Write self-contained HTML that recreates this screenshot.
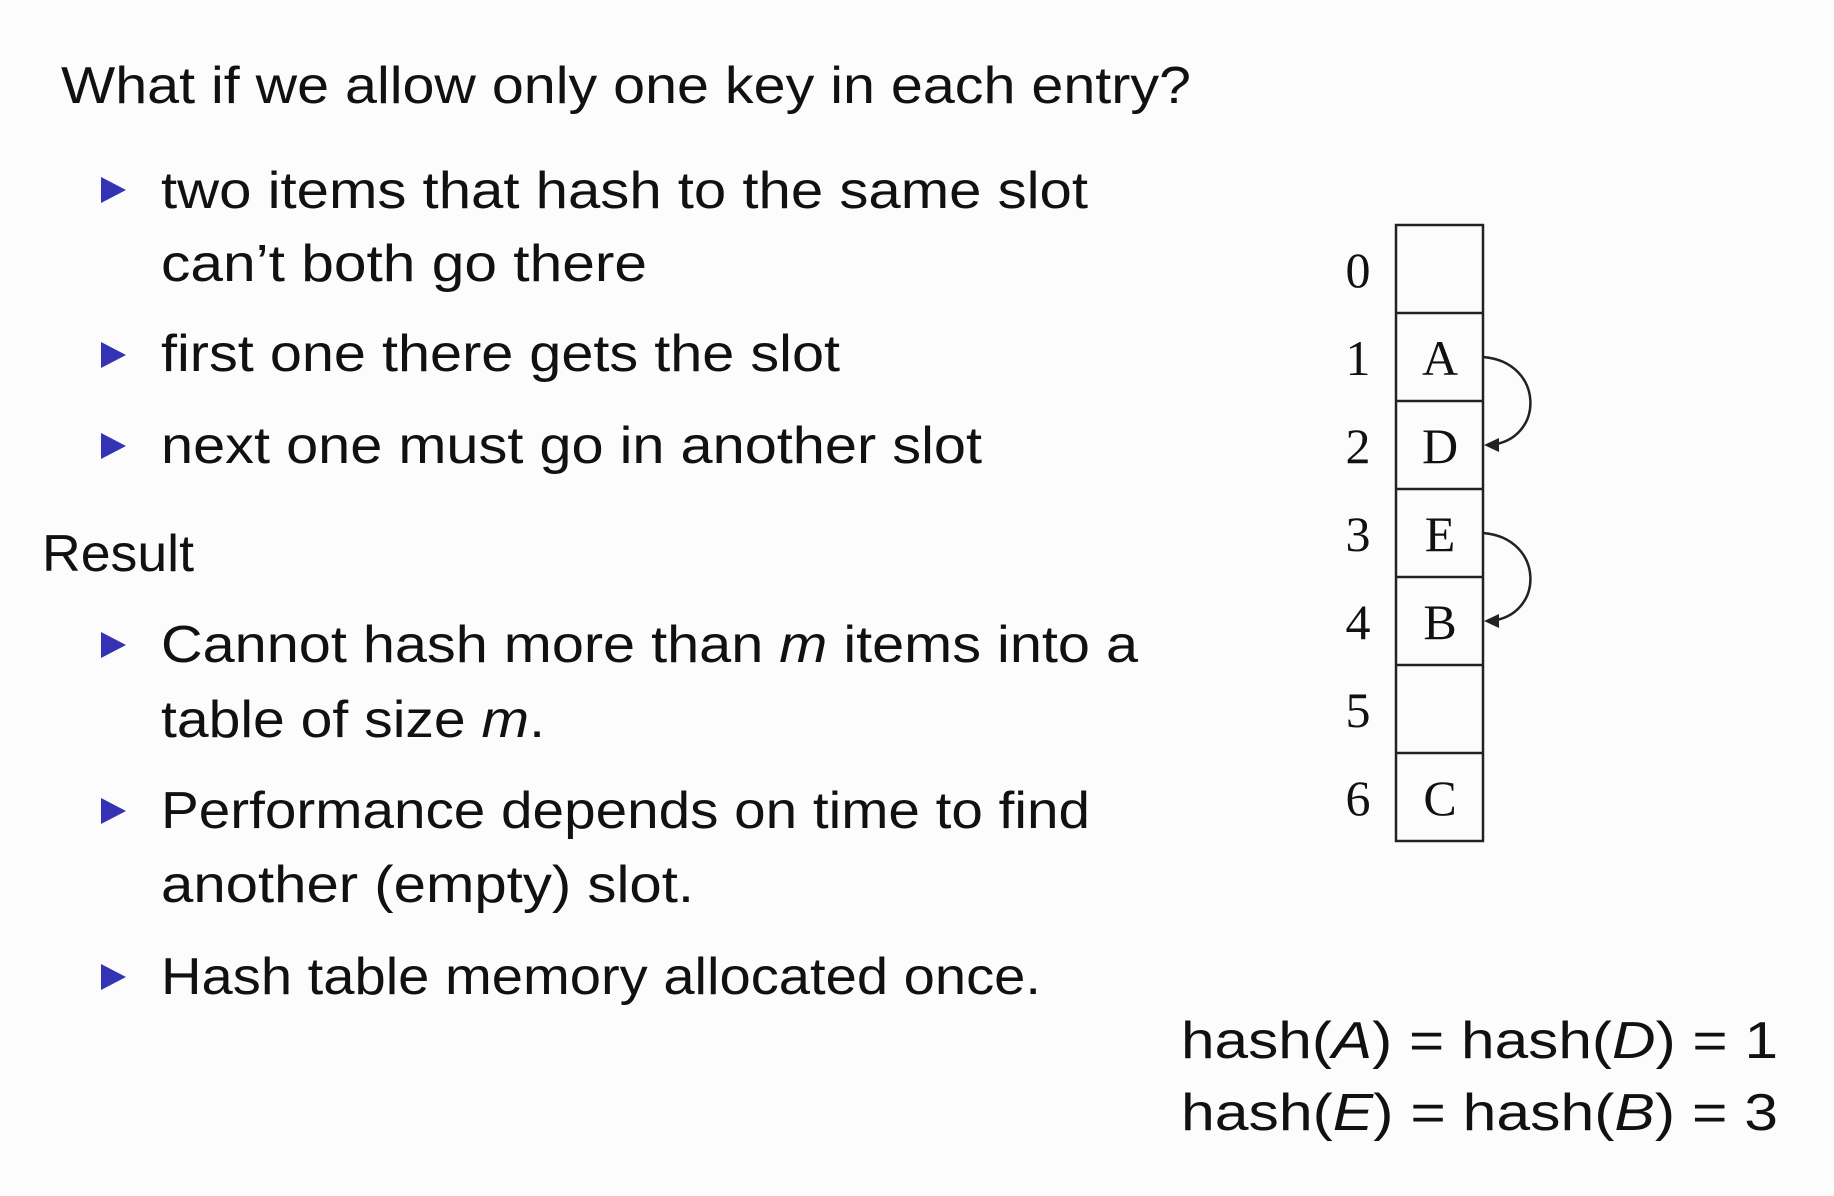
<!DOCTYPE html>
<html><head><meta charset="utf-8"><style>
html,body{margin:0;padding:0;background:#fcfcfc;}
svg{display:block}
.s{font-family:"Liberation Sans",sans-serif;font-size:52px;fill:#111}
.r{font-family:"Liberation Serif",serif;font-size:50px;fill:#111}
</style></head><body>
<svg width="1834" height="1196" viewBox="0 0 1834 1196" xmlns="http://www.w3.org/2000/svg">
<rect width="1834" height="1196" fill="#fcfcfc"/>
<g class="s">
<text x="61" y="103" textLength="1130" lengthAdjust="spacingAndGlyphs">What if we allow only one key in each entry?</text>
<text x="161" y="208" textLength="927" lengthAdjust="spacingAndGlyphs">two items that hash to the same slot</text>
<text x="161" y="281" textLength="486" lengthAdjust="spacingAndGlyphs">can’t both go there</text>
<text x="161" y="371" textLength="679" lengthAdjust="spacingAndGlyphs">first one there gets the slot</text>
<text x="161" y="463" textLength="821" lengthAdjust="spacingAndGlyphs">next one must go in another slot</text>
<text x="42" y="571" textLength="152" lengthAdjust="spacingAndGlyphs">Result</text>
<text x="161" y="662" textLength="977" lengthAdjust="spacingAndGlyphs">Cannot hash more than <tspan font-style="italic">m</tspan> items into a</text>
<text x="161" y="737" textLength="384" lengthAdjust="spacingAndGlyphs">table of size <tspan font-style="italic">m</tspan>.</text>
<text x="161" y="828" textLength="929" lengthAdjust="spacingAndGlyphs">Performance depends on time to find</text>
<text x="161" y="902" textLength="533" lengthAdjust="spacingAndGlyphs">another (empty) slot.</text>
<text x="161" y="994" textLength="880" lengthAdjust="spacingAndGlyphs">Hash table memory allocated once.</text>
<text x="1181" y="1058" textLength="597" lengthAdjust="spacingAndGlyphs">hash(<tspan font-style="italic">A</tspan>) = hash(<tspan font-style="italic">D</tspan>) = 1</text>
<text x="1181" y="1130" textLength="597" lengthAdjust="spacingAndGlyphs">hash(<tspan font-style="italic">E</tspan>) = hash(<tspan font-style="italic">B</tspan>) = 3</text>
</g>
<g fill="#3333b3">
<polygon points="101,177 101,203 126,190"/>
<polygon points="101,342 101,368 126,355"/>
<polygon points="101,433 101,459 126,446"/>
<polygon points="101,632 101,658 126,645"/>
<polygon points="101,798 101,824 126,811"/>
<polygon points="101,964 101,990 126,977"/>
</g>
<g fill="none" stroke="#222" stroke-width="2.5">
<rect x="1396" y="225" width="87" height="616"/>
<line x1="1396" y1="313" x2="1483" y2="313"/>
<line x1="1396" y1="401" x2="1483" y2="401"/>
<line x1="1396" y1="489" x2="1483" y2="489"/>
<line x1="1396" y1="577" x2="1483" y2="577"/>
<line x1="1396" y1="665" x2="1483" y2="665"/>
<line x1="1396" y1="753" x2="1483" y2="753"/>
<path d="M1483,357 C1545,362 1545,440 1490,445"/>
<path d="M1483,533 C1545,538 1545,616 1490,621"/>
</g>
<g fill="#222">
<polygon points="1484,445 1499,438 1499,452"/>
<polygon points="1484,621 1499,614 1499,628"/>
</g>
<g class="r" text-anchor="middle">
<text x="1358" y="287">0</text>
<text x="1358" y="375">1</text>
<text x="1358" y="463">2</text>
<text x="1358" y="551">3</text>
<text x="1358" y="639">4</text>
<text x="1358" y="727">5</text>
<text x="1358" y="815">6</text>
<text x="1440" y="375">A</text>
<text x="1440" y="463">D</text>
<text x="1440" y="551">E</text>
<text x="1440" y="639">B</text>
<text x="1440" y="815">C</text>
</g>
</svg>
</body></html>
